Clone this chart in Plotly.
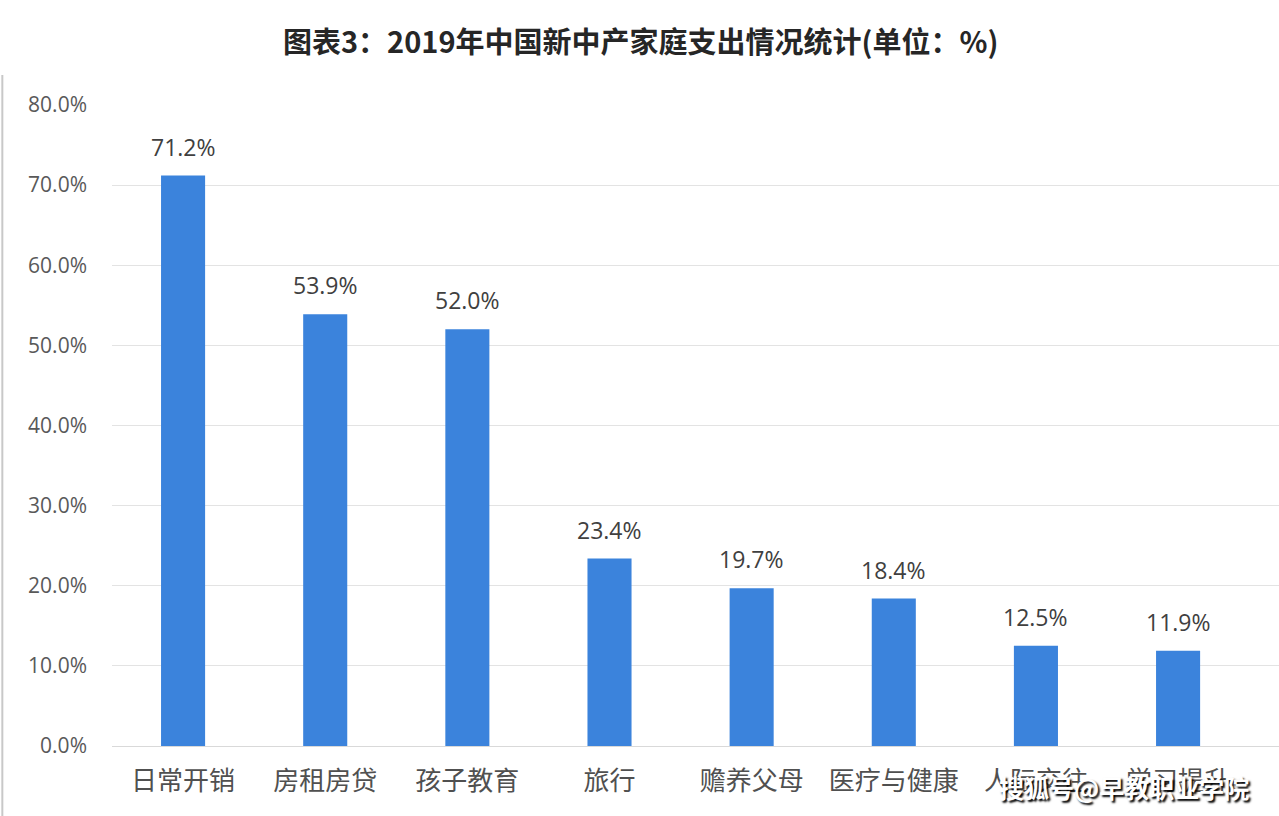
import plotly.graph_objects as go

categories = ["日常开销", "房租房贷", "孩子教育", "旅行", "赡养父母", "医疗与健康", "人际交往", "学习提升"]
values = [71.2, 53.9, 52.0, 23.4, 19.7, 18.4, 12.5, 11.9]
y_ticks = [0, 10, 20, 30, 40, 50, 60, 70, 80]
y_tick_labels = ["0.0%", "10.0%", "20.0%", "30.0%", "40.0%", "50.0%", "60.0%", "70.0%", "80.0%"]

FONT = "Noto Sans CJK SC"

fig = go.Figure()
fig.add_trace(go.Bar(
    x=list(range(len(categories))),
    y=values,
    width=0.31,
    marker=dict(color="#3B83DC", line=dict(width=0)),
    hoverinfo="skip",
))

for i, v in enumerate(values):
    fig.add_annotation(
        x=i, y=v, text=f"{v:.1f}%", showarrow=False,
        yanchor="middle", yshift=29,
        font=dict(family="Open Sans", size=23, color="#404040"),
    )

fig.add_annotation(
    x=(640 - 112) / 1167, xref="paper", xanchor="center",
    y=1 + (105 - 40) / (816 - 105 - 70), yref="paper", yanchor="middle",
    text="<b>图表3：2019年中国新中产家庭支出情况统计(单位：%)</b>",
    showarrow=False,
    font=dict(family=FONT, size=29, color="#262626"),
)

fig.update_layout(
    width=1279, height=816,
    margin=dict(l=112, r=0, t=105, b=70),
    paper_bgcolor="white", plot_bgcolor="white",
    showlegend=False,
    font=dict(family=FONT),
    xaxis=dict(
        range=[-0.5, 7.71],
        tickmode="array",
        tickvals=list(range(len(categories))),
        ticktext=categories,
        tickfont=dict(family=FONT, size=26, color="#505050"),
        showgrid=False, zeroline=False,
        showline=True, linecolor="#d9d9d9", linewidth=1,
        ticks="", ticklabelstandoff=12,
    ),
    yaxis=dict(
        range=[0, 80],
        tickmode="array",
        tickvals=y_ticks,
        ticktext=y_tick_labels,
        tickfont=dict(family="Open Sans", size=21, color="#595959"),
        showgrid=True, gridcolor="#e3e3e3", gridwidth=1,
        zeroline=False, ticks="", ticklabelstandoff=24,
    ),
)

# left border line of image
fig.add_shape(type="line", xref="paper", yref="paper",
              x0=-112 / 1167 + 0.002, x1=-112 / 1167 + 0.002,
              y0=-70 / 641, y1=1 + 30 / 641,
              line=dict(color="#c8c8c8", width=2))

# platform watermark
fig.add_annotation(
    x=1, xref="paper", xanchor="right", xshift=-28,
    y=-(787 - 746) / 641, yref="paper", yanchor="middle",
    text="<b>搜狐号@早教职业学院</b>", showarrow=False,
    font=dict(family=FONT, size=25, color="white", shadow="2px 2px 2px #000000"),
)

fig.write_html("out.html")
